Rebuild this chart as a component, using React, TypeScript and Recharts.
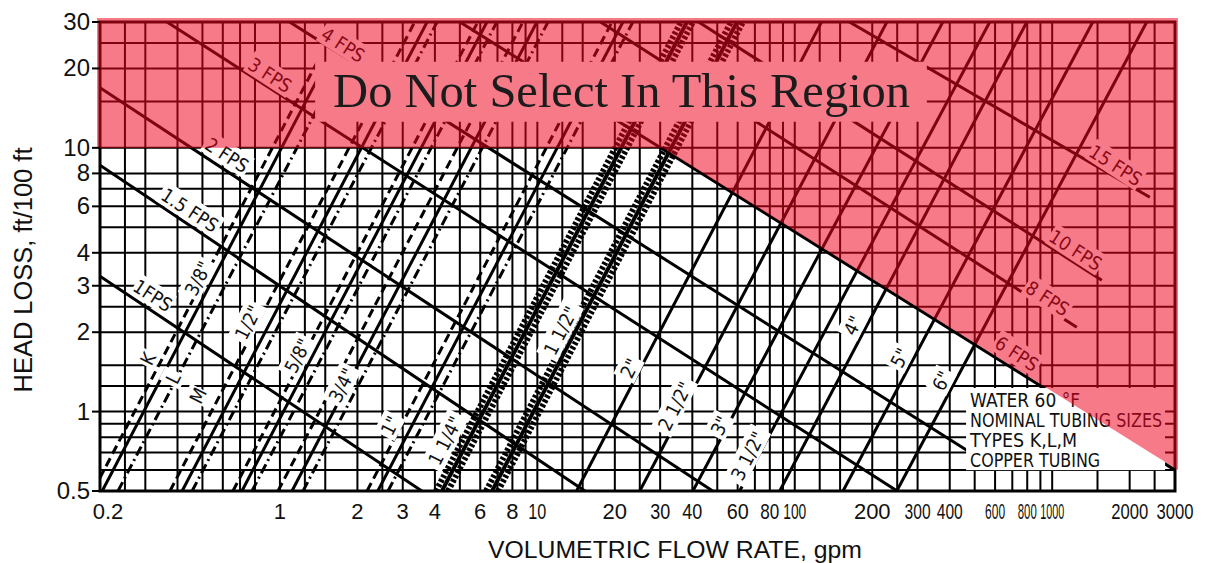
import React from "react";
import {
  LineChart,
  Line,
  XAxis,
  YAxis,
  ReferenceLine,
  ReferenceArea,
  ReferenceDot,
} from "recharts";

// axes
const X_TICKS = [0.2, 1, 2, 3, 4, 6, 8, 10, 20, 30, 40, 60, 80, 100, 200, 300, 400, 600, 800, 1000, 2000, 3000];
const Y_TICKS = [0.5, 1, 2, 3, 4, 6, 8, 10, 20, 30];
const X_GRID = [
  0.25, 0.3, 0.4, 0.5, 0.6, 0.7, 0.8, 1, 1.25, 1.5, 2, 2.5, 3, 4, 5, 6, 7, 8, 9, 10, 12.5, 15, 20, 25, 30, 40,
  50, 60, 70, 80, 90, 100, 125, 150, 200, 250, 300, 400, 500, 600, 700, 800, 900, 1000, 1500, 2000, 2500,
];
const Y_GRID = [0.6, 0.7, 0.8, 0.9, 1, 1.25, 1.5, 2, 2.5, 3, 4, 5, 6, 7, 8, 10, 15, 20, 25];

// small tubing: three lines (types K, L, M), flow in gpm at 0.5 ft and at the top end
const BOTTOM_HEAD = 0.5;
const SMALL_SIZES = ['3/8"', '1/2"', '5/8"', '3/4"', '1"', '1 1/4"', '1 1/2"'];
const SMALL_TOP_HEAD = [21, 30, 30, 30, 30, 30, 30];
const K_LOW = [0.188, 0.374, 0.657, 0.983, 2.18, 4.04, 6.32];
const K_HIGH = [1.39, 3.34, 5.87, 8.79, 19.5, 36.1, 56.5];
const L_LOW = [0.204, 0.417, 0.712, 1.114, 2.4, 4.26, 6.67];
const L_HIGH = [1.51, 3.73, 6.37, 9.96, 21.5, 38.1, 59.6];
const M_LOW = [0.235, 0.456, 0.779, 1.23, 2.63, 4.5, 7.04];
const M_HIGH = [1.73, 4.08, 6.96, 11.0, 23.5, 40.2, 62.9];

// large tubing: one line each
const LARGE_SIZES = ['2"', '2 1/2"', '3"', '3 1/2"', '4"', '5"', '6"'];
const LARGE_TOP_HEAD = 30;
const LARGE_LOW = [14.2, 25.0, 40.2, 61.1, 87.4, 154, 249];
const LARGE_HIGH = [127, 228, 376, 572, 797, 1438, 2330];

// velocity lines
const FPS = ["1", "1.5", "2", "3", "4", "6", "8", "10", "15"];
const FPS_START_Q = [0.2, 0.2, 0.2, 0.364, 1.09, 5.0, 17.6, 42.3, 163];
const FPS_START_H = [3.26, 8.6, 16.9, 30, 30, 30, 30, 30, 30];
const FPS_END_Q = [3.56, 15.3, 48, 250, 481, 3000, 1246, 1559, 2395];
const FPS_END_H = [0.5, 0.5, 0.5, 0.5, 0.7, 0.6, 2.09, 3.15, 6.5];

// labels written along the lines
const SIZE_LABELS = [...SMALL_SIZES, ...LARGE_SIZES];
const SIZE_LABEL_Q = [0.48, 0.751, 1.17, 1.74, 2.68, 4.38, 12.3, 22.8, 34.2, 51.2, 65.7, 168, 256, 372];
const SIZE_LABEL_H = [3.2, 2.18, 1.63, 1.26, 0.885, 0.776, 2.03, 1.46, 1.05, 0.885, 0.68, 2.12, 1.6, 1.31];
const FPS_LABELS = ["1FPS", "1.5 FPS", "2 FPS", "3 FPS", "4 FPS", "6 FPS", "8 FPS", "10 FPS", "15 FPS"];
const FPS_LABEL_Q = [0.321, 0.447, 0.623, 0.916, 1.76, 729, 960, 1235, 1766];
const FPS_LABEL_H = [2.76, 5.81, 9.4, 18.9, 24.6, 1.66, 2.69, 4.1, 8.6];
const TYPES = ["K", "L", "M"];
const TYPE_LABEL_Q = [0.307, 0.384, 0.48];
const TYPE_LABEL_H = [1.59, 1.34, 1.15];

const NOTES = ["WATER 60 °F", "NOMINAL TUBING SIZES", "TYPES K,L,M", "COPPER TUBING"];
const NOTE_WIDTHS = [110, 192, 107, 130];

const SANS = "'Liberation Sans', Arial, sans-serif";
const NARROW = "'Liberation Sans Narrow', 'DejaVu Sans Condensed', 'Liberation Sans', sans-serif";
const PINK = "#f77a89";

const X_FIT: Record<number, number> = {
  10: 18, 30: 20, 40: 20, 60: 22, 80: 19, 100: 23, 300: 26, 400: 26, 600: 20, 800: 19, 1000: 24, 2000: 37, 3000: 37,
};

function XTick(props: any) {
  const { x, y, payload } = props;
  const v = payload.value;
  const fit = X_FIT[v];
  return (
    <text
      x={v === 0.2 ? x + 8 : x}
      y={y + 26}
      textAnchor="middle"
      fontSize={22}
      fontFamily={SANS}
      fill="#111"
      {...(fit ? { textLength: fit, lengthAdjust: "spacingAndGlyphs" } : {})}
    >
      {String(v)}
    </text>
  );
}

function YTick(props: any) {
  const { x, y, payload } = props;
  return (
    <text x={x} y={y + 8} textAnchor="end" fontSize={24} fontFamily={SANS} fill="#111">
      {String(payload.value)}
    </text>
  );
}

const XTitle = () => (
  <text x={675} y={558} textAnchor="middle" fontSize={24} fontFamily={SANS} fill="#111" textLength={374} lengthAdjust="spacingAndGlyphs">
    VOLUMETRIC FLOW RATE, gpm
  </text>
);

const YTitle = () => (
  <text
    x={32}
    y={270}
    transform="rotate(-90 32 270)"
    textAnchor="middle"
    fontSize={26}
    fontFamily={SANS}
    fill="#111"
    textLength={245}
    lengthAdjust="spacingAndGlyphs"
  >
    HEAD LOSS, ft/100 ft
  </text>
);

function tag(text: string, angle: number) {
  return (p: any) => {
    const w = text.length * 9 + 6;
    return (
      <g transform={`translate(${p.cx},${p.cy}) rotate(${angle})`}>
        <rect x={-w / 2} y={-12} width={w} height={23} fill="#fff" />
        <text x={0} y={7} textAnchor="middle" fontSize={19} fontFamily={NARROW} fill="#111">
          {text}
        </text>
      </g>
    );
  };
}

function pipeStroke(type: string, i: number) {
  const heavy = i >= 5;
  if (type === "K") return heavy ? { strokeWidth: 6, strokeDasharray: "3 2" } : { strokeWidth: 3, strokeDasharray: "9 5" };
  if (type === "L") return heavy ? { strokeWidth: 4 } : { strokeWidth: 3 };
  return heavy ? { strokeWidth: 6, strokeDasharray: "3 2" } : { strokeWidth: 3, strokeDasharray: "10 4 2 4" };
}

const smallSeries = SMALL_SIZES.flatMap((size, i) =>
  [
    ["K", K_LOW, K_HIGH],
    ["L", L_LOW, L_HIGH],
    ["M", M_LOW, M_HIGH],
  ].map(([type, low, high]: any) => ({
    key: `${type}-${size}`,
    style: pipeStroke(type, i),
    data: [
      { q: low[i], h: BOTTOM_HEAD },
      { q: high[i], h: SMALL_TOP_HEAD[i] },
    ],
  }))
);

const largeSeries = LARGE_SIZES.map((size, i) => ({
  key: `size-${size}`,
  style: { strokeWidth: 3 },
  data: [
    { q: LARGE_LOW[i], h: BOTTOM_HEAD },
    { q: LARGE_HIGH[i], h: LARGE_TOP_HEAD },
  ],
}));

const fpsSeries = FPS.map((v, i) => ({
  key: `fps-${v}`,
  style: { strokeWidth: 3 },
  data: [
    { q: FPS_START_Q[i], h: FPS_START_H[i] },
    { q: FPS_END_Q[i], h: FPS_END_H[i] },
  ],
}));

const allSeries = [...smallSeries, ...largeSeries, ...fpsSeries];

export default function App() {
  return (
    <div style={{ position: "absolute", left: 0, top: 0, background: "#fff" }}>
      <LineChart width={1206} height={563} margin={{ top: 22, right: 31, bottom: 0, left: 0 }}>
        <XAxis
          type="number"
          dataKey="q"
          scale="log"
          domain={[0.2, 3000]}
          ticks={X_TICKS}
          interval={0}
          allowDataOverflow
          height={72}
          axisLine={false}
          tickLine={false}
          tickSize={0}
          tick={<XTick />}
          label={<XTitle />}
        />
        <YAxis
          type="number"
          dataKey="h"
          scale="log"
          domain={[0.5, 30]}
          ticks={Y_TICKS}
          interval={0}
          allowDataOverflow
          width={100}
          axisLine={false}
          tickSize={8}
          tickLine={{ stroke: "#000", strokeWidth: 2 }}
          tick={<YTick />}
          label={<YTitle />}
        />

        {X_GRID.map((v) => (
          <ReferenceLine key={`gx-${v}`} x={v} stroke="#000" strokeWidth={2} zIndex={50} />
        ))}
        {Y_GRID.map((v) => (
          <ReferenceLine key={`gy-${v}`} y={v} stroke="#000" strokeWidth={2} zIndex={50} />
        ))}

        {allSeries.map((s) => (
          <Line
            key={s.key}
            data={s.data}
            dataKey="h"
            stroke="#000"
            {...s.style}
            dot={false}
            activeDot={false}
            isAnimationActive={false}
            legendType="none"
            zIndex={400}
          />
        ))}

        {SIZE_LABELS.map((t, i) => (
          <ReferenceDot key={`sl-${i}`} x={SIZE_LABEL_Q[i]} y={SIZE_LABEL_H[i]} shape={tag(t, -63)} zIndex={410} />
        ))}
        {TYPES.map((t, i) => (
          <ReferenceDot key={`tl-${t}`} x={TYPE_LABEL_Q[i]} y={TYPE_LABEL_H[i]} shape={tag(t, -63)} zIndex={410} />
        ))}
        {FPS_LABELS.map((t, i) => (
          <ReferenceDot key={`fl-${i}`} x={FPS_LABEL_Q[i]} y={FPS_LABEL_H[i]} shape={tag(t, 33)} zIndex={410} />
        ))}

        {/* plot frame */}
        <ReferenceArea x1={0.2} x2={3000} y1={0.5} y2={30} fill="none" stroke="#000" strokeWidth={3} zIndex={415} />

        {/* notes block */}
        <ReferenceArea
          x1={463}
          x2={2745}
          y1={0.6}
          y2={1.229}
          zIndex={420}
          shape={(p: any) => (
            <g>
              <rect x={p.x} y={p.y} width={p.width} height={p.height} fill="#fff" />
              {NOTES.map((n, i) => (
                <text
                  key={n}
                  x={p.x + 4}
                  y={p.y + 19 + i * 20}
                  fontSize={20}
                  fontFamily={NARROW}
                  fill="#111"
                  textLength={NOTE_WIDTHS[i]}
                  lengthAdjust="spacingAndGlyphs"
                >
                  {n}
                </text>
              ))}
            </g>
          )}
        />

        {/* do-not-select region */}
        <ReferenceArea
          x1={0.2}
          x2={3000}
          y1={10}
          y2={30}
          zIndex={450}
          shape={(p: any) => (
            <rect x={p.x - 3} y={p.y - 4} width={p.width + 6} height={p.height + 4} fill="#f00420" fillOpacity={0.53} />
          )}
        />
        <ReferenceArea
          x1={30.7}
          x2={3000}
          y1={0.6}
          y2={10}
          zIndex={450}
          shape={(p: any) => (
            <polygon
              points={`${p.x},${p.y} ${p.x + p.width + 3},${p.y} ${p.x + p.width + 3},${p.y + p.height}`}
              fill="#f00420"
              fillOpacity={0.53}
            />
          )}
        />
        <ReferenceArea
          x1={1.37}
          x2={326}
          y1={12.56}
          y2={21.2}
          zIndex={460}
          shape={(p: any) => (
            <g>
              <rect x={p.x} y={p.y} width={p.width} height={p.height} fill={PINK} />
              <text
                x={p.x + 18}
                y={p.y + 45}
                fontSize={48}
                fontFamily="'Liberation Serif', 'Times New Roman', serif"
                fill="#1c1c1c"
                textLength={577}
                lengthAdjust="spacingAndGlyphs"
              >
                Do Not Select In This Region
              </text>
            </g>
          )}
        />
      </LineChart>
    </div>
  );
}
